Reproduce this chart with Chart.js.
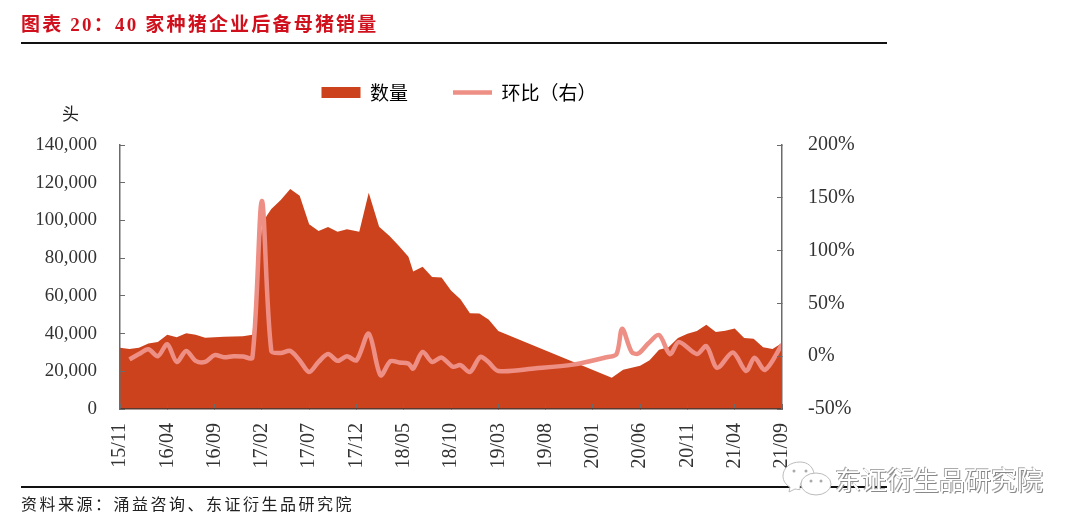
<!DOCTYPE html>
<html>
<head>
<meta charset="utf-8">
<script src="https://cdn.jsdelivr.net/npm/chart.js@4"></script>
<style>
  html, body { margin: 0; padding: 0; background: #fff; }
  #page { position: relative; width: 1080px; height: 527px; overflow: hidden; font-family: "Liberation Serif", "Noto Sans CJK SC", serif; }
  #chart { position: absolute; left: 0; top: 0; }
  .txt { position: absolute; white-space: nowrap; }
  .rule { position: absolute; left: 21px; width: 866px; background: #111; }
</style>
</head>
<body>
<div id="page">
  <canvas id="chart" width="1080" height="527"></canvas>
  <div class="txt" style="left:21px;top:9px;font-size:19px;font-weight:700;color:#d0101c;letter-spacing:2.2px">图表 20：40 家种猪企业后备母猪销量</div>
  <div class="rule" style="top:42px;height:2px"></div>
  <div class="txt" style="left:62px;top:100px;font-size:17px;color:#222">头</div>
  <div class="rule" style="top:486px;height:1.5px"></div>
  <div class="txt" style="left:21px;top:491px;font-size:16px;color:#222;letter-spacing:2.5px">资料来源：涌益咨询、东证衍生品研究院</div>
  <svg class="txt" style="left:782px;top:460px" width="52" height="38" viewBox="0 0 52 38">
    <path d="M18 2C8 2 1 8 1 16c0 5 3 9 7 11l-1 5 6-3c2 .5 4 .6 5 .6 0 0-2-12 14-16C31 7 26 2 18 2z" fill="#fff" stroke="#bbb" stroke-width="1"/>
    <ellipse cx="34" cy="24" rx="15" ry="11" fill="#fff" stroke="#bbb" stroke-width="1"/>
    <circle cx="12" cy="11" r="1.5" fill="#aaa"/><circle cx="24" cy="11" r="1.5" fill="#aaa"/>
    <circle cx="29" cy="21" r="1.5" fill="#aaa"/><circle cx="39" cy="21" r="1.5" fill="#aaa"/>
  </svg>
  <div class="txt" style="left:835px;top:460px;font-size:26px;font-family:'Noto Sans CJK SC';color:#fff;text-shadow:1px 1px 0 #888,-1px -1px 0 #aaa">东证衍生品研究院</div>
</div>
<script>
// 数量: months since 15/11 and head count
const tickLabels = ['15/11', '16/04', '16/09', '17/02', '17/07', '17/12', '18/05', '18/10', '19/03', '19/08', '20/01', '20/06', '20/11', '21/04', '21/09'];
const volumeMonths = [0, 1, 2, 3, 4, 5, 6, 7, 8, 9, 10, 11, 12, 13, 14, 15, 15.5, 16, 17, 18, 19, 20, 21, 22, 23, 24, 25.3, 26.3, 27.4, 28.5, 29.5, 30.5, 31, 32, 33, 34, 35, 36, 37, 38, 39, 40, 52, 53.2, 55, 56, 57, 58, 59, 60, 61, 62, 63, 64, 65, 66, 67, 68, 69, 70];
const volumeValues = [32500, 31800, 32500, 34800, 35500, 39400, 38000, 40200, 39400, 37800, 38100, 38300, 38500, 38600, 39400, 96500, 102400, 106000, 110800, 116700, 113100, 98000, 94400, 96500, 94000, 95300, 94000, 114700, 96700, 91800, 86500, 80800, 72900, 75500, 70000, 69700, 62800, 58200, 50800, 50700, 47300, 41300, 16600, 20800, 22900, 25800, 31400, 32800, 37600, 39900, 41300, 44700, 40800, 41500, 42700, 37600, 37200, 32800, 31800, 35000];
// 环比: months since 15/11 and percent change
const changeMonths = [1, 2, 3, 4, 5, 6, 7, 8, 9, 10, 11, 12, 13, 14, 15, 16, 17, 18, 19, 20, 21, 22, 23, 24, 25, 26.3, 27.55, 28.6, 29.5, 30.5, 31, 32, 33, 34, 35.2, 36, 37, 38.1, 38.9, 40, 44, 47.9, 51.45, 52.5, 53.1, 54.1, 54.8, 55.85, 57, 58.15, 59.1, 61, 62, 63.15, 64.8, 66.2, 67.1, 68.2, 70];
const changeValues = [-3, 2, 6.6, 0, 11.3, -5.4, 5, -4.4, -5.4, 1, -1, 0, -0.3, -1.3, 147, 5, 3, 5, -4, -15, -5.4, 2, -4.4, 0, -4, 21.4, -18, -4.7, -6, -7, -11.6, 4, -5.4, -1.3, -10, -8.5, -15, -0.6, -5, -14, -11.5, -8, -1, 2, 26, 4, 2.5, 12, 20, 2, 13.5, 2, 9.5, -11, 3.5, -14, -1.5, -13, 11];

const toPoints = (xs, ys) => xs.map((x, i) => ({ x: x, y: ys[i] }));
const serif = '"Liberation Serif", serif';
const axisColor = '#6b6b6b';

// moves the legend to where the reference has it, the plot area is left alone
const placeLegend = {
  id: 'placeLegend',
  afterLayout(chart) {
    const legend = chart.legend;
    legend.left -= 81;
    legend.right -= 81;
    legend.top -= 33;
    legend.bottom -= 33;
  },
};

new Chart(document.getElementById('chart'), {
  type: 'line',
  data: {
    datasets: [
      {
        label: '数量',
        data: toPoints(volumeMonths, volumeValues),
        yAxisID: 'y',
        borderColor: '#cc421c',
        backgroundColor: '#cc421c',
        borderWidth: 0,
        fill: 'origin',
        tension: 0,
        pointRadius: 0,
        order: 2,
      },
      {
        label: '环比（右）',
        data: toPoints(changeMonths, changeValues),
        yAxisID: 'y1',
        borderColor: '#ee8f85',
        backgroundColor: '#ee8f85',
        borderWidth: 4.5,
        fill: false,
        tension: 0.3,
        pointRadius: 0,
        order: 1,
      },
    ],
  },
  options: {
    responsive: false,
    animation: false,
    devicePixelRatio: 1,
    layout: { padding: { top: 71, left: 0, right: 0, bottom: 0 } },
    plugins: {
      tooltip: { enabled: false },
      legend: {
        position: 'top',
        labels: {
          color: '#222',
          font: { family: '"Noto Sans CJK SC"', size: 19 },
          usePointStyle: true,
          pointStyleWidth: 39,
          boxHeight: 11,
          padding: 45,
          generateLabels(chart) {
            return [
              { text: '数量', fillStyle: '#cc421c', strokeStyle: '#cc421c', lineWidth: 0, pointStyle: 'rect', datasetIndex: 0 },
              { text: '环比（右）', fillStyle: '#ee8f85', strokeStyle: '#ee8f85', lineWidth: 4.5, pointStyle: 'line', datasetIndex: 1 },
            ];
          },
        },
      },
    },
    scales: {
      x: {
        type: 'linear',
        min: 0,
        max: 70,
        afterFit(scale) { scale.height = 118; },
        afterBuildTicks(scale) {
          scale.ticks = tickLabels.map((t, i) => ({ value: i * 5 }));
        },
        ticks: {
          autoSkip: false,
          minRotation: 90,
          maxRotation: 90,
          padding: 19,
          color: '#333',
          font: { family: serif, size: 20 },
          callback: (value) => tickLabels[value / 5],
        },
        grid: { drawOnChartArea: false, tickLength: -5, color: axisColor, z: 1 },
        border: { color: '#5a3a30', width: 1.5, z: 1 },
      },
      y: {
        position: 'left',
        min: 0,
        max: 140000,
        afterFit(scale) { scale.width = 120; },
        ticks: {
          stepSize: 20000,
          padding: 28,
          color: '#333',
          font: { family: serif, size: 19 },
          callback: (value) => value.toLocaleString('en-US'),
        },
        grid: { drawOnChartArea: false, tickLength: -5, color: axisColor, z: 1 },
        border: { color: axisColor, width: 1.5, z: 1 },
      },
      y1: {
        position: 'right',
        min: -50,
        max: 200,
        afterFit(scale) { scale.width = 298; },
        ticks: {
          stepSize: 50,
          padding: 31,
          color: '#333',
          font: { family: serif, size: 20 },
          callback: (value) => value + '%',
        },
        grid: { drawOnChartArea: false, tickLength: -5, color: axisColor, z: 1 },
        border: { color: axisColor, width: 1.5, z: 1 },
      },
    },
  },
  plugins: [placeLegend],
});
</script>
</body>
</html>
